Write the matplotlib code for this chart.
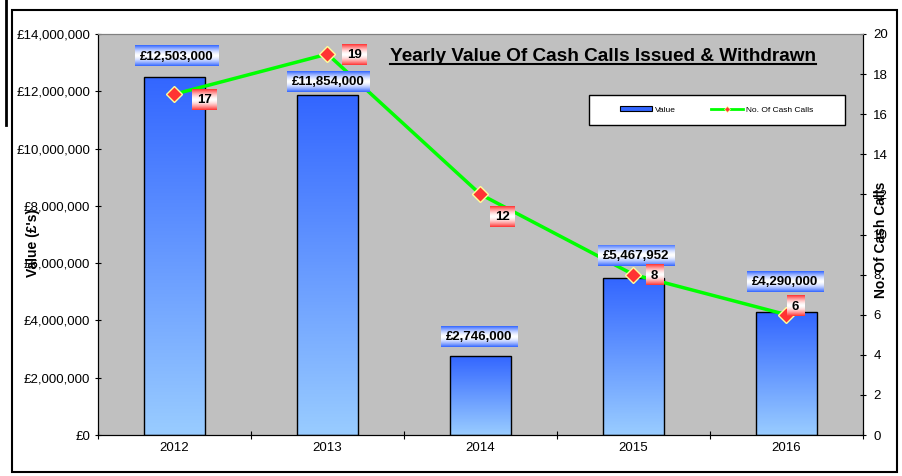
import matplotlib.pyplot as plt
import numpy as np
from matplotlib.patches import Rectangle
from matplotlib.lines import Line2D
from matplotlib.ticker import FuncFormatter, MultipleLocator, FixedLocator

plt.rcParams['font.family'] = ['Liberation Sans', 'DejaVu Sans']

years = ['2012', '2013', '2014', '2015', '2016']
values = [12503000, 11854000, 2746000, 5467952, 4290000]
value_text = ['£12,503,000', '£11,854,000', '£2,746,000', '£5,467,952', '£4,290,000']
calls = [17, 19, 12, 8, 6]

# label nudges in pixels (dx, dy) from the point they belong to, picked by eye
value_nudge = [(2, 21), (1, 14), (-1, 20), (3, 23), (-1, 31)]
calls_nudge = [(30, -5), (27, 0), (22, -22), (21, 0), (9, 9)]

W, H = 903, 476
fig = plt.figure(figsize=(W / 100, H / 100), dpi=100)
fig.patch.set_facecolor('white')

ax = fig.add_axes([98 / W, 41 / H, 765 / W, 401 / H])
ax.set_facecolor('#C0C0C0')
ax2 = ax.twinx()

x = np.arange(len(years))

dark = np.array([0x33, 0x66, 0xFF]) / 255
light = np.array([0x99, 0xCC, 0xFF]) / 255
t = np.linspace(0, 1, 128)[:, None, None]
bar_grad = dark * (1 - t) + light * t

bars = ax.bar(x, values, 0.4, color='#3366FF', zorder=2)
for p in bars:
    b = p.get_bbox()
    im = ax.imshow(bar_grad, extent=[b.x0, b.x1, b.y0, b.y1], aspect='auto', zorder=2.1)
    im.set_clip_path(p)
ax.bar(x, values, 0.4, fill=False, edgecolor='black', linewidth=1, zorder=2.2)

ax.set_xlim(-0.5, len(years) - 0.5)
ax.set_ylim(0, 14000000)
ax.yaxis.set_major_locator(MultipleLocator(2000000))
ax.yaxis.set_major_formatter(FuncFormatter(lambda v, pos: '£{:,.0f}'.format(v)))
ax.xaxis.set_major_locator(FixedLocator(np.arange(-0.5, len(years), 1)))
ax.xaxis.set_major_formatter(FuncFormatter(lambda v, pos: ''))
ax.xaxis.set_minor_locator(FixedLocator(x))
ax.set_xticklabels(years, minor=True)
ax.tick_params(axis='x', which='minor', length=0, labelsize=9.5, pad=5)
ax.tick_params(axis='x', which='major', direction='inout', length=6)
ax.tick_params(axis='y', direction='inout', length=5, labelsize=9.5, pad=3)

ax2.plot(x, calls, color='#00FF00', lw=2.5, marker='D', ms=8, mfc='#FF3333',
         mec='#FFFF99', mew=1, zorder=3)
ax2.set_ylim(0, 20)
ax2.yaxis.set_major_locator(MultipleLocator(2))
ax2.tick_params(axis='y', direction='inout', length=5, labelsize=9.5, pad=5)

for a in (ax, ax2):
    a.spines['top'].set_color('#808080')
    for s in ('left', 'right', 'bottom'):
        a.spines[s].set_color('black')

ax.set_ylabel("Value (£'s)", fontsize=10, fontweight='bold')
ax.yaxis.set_label_coords(-0.076, 0.479)
ax2.set_ylabel('No. Of Cash Calls', fontsize=10, fontweight='bold')
ax2.yaxis.set_label_coords(1.014, 0.486)

renderer = fig.canvas.get_renderer()


def grad_box(col):
    c = np.array(col) / 255
    s = np.linspace(-1, 1, 64)[:, None, None]
    m = np.abs(s) ** 1.6
    return np.ones(3) * (1 - m) + c * m


def tag(px, py, s, col, padx):
    txt = fig.text(px / W, (py - 1) / H, s, ha='center', va='center', fontsize=9.5,
                   fontweight='bold', zorder=6)
    bb = txt.get_window_extent(renderer)
    w = bb.width + padx
    h = 21
    bx = fig.add_axes([(px - w / 2) / W, (py - h / 2) / H, w / W, h / H], zorder=5)
    bx.imshow(grad_box(col), aspect='auto', extent=[0, 1, 0, 1])
    bx.axis('off')


for i in range(len(years)):
    px, py = ax.transData.transform((x[i], values[i]))
    dx, dy = value_nudge[i]
    tag(px + dx, py + dy, value_text[i], (0x33, 0x66, 0xFF), 10)
    px, py = ax2.transData.transform((x[i], calls[i]))
    dx, dy = calls_nudge[i]
    tag(px + dx, py + dy, str(calls[i]), (0xFF, 0x33, 0x33), 10)

# title with underline
tt = fig.text(603 / W, 415 / H, 'Yearly Value Of Cash Calls Issued & Withdrawn',
              ha='center', va='baseline', fontsize=13.7, fontweight='bold', zorder=6)
tb = tt.get_window_extent(renderer)
fig.add_artist(Line2D([tb.x0 / W, tb.x1 / W], [412 / H, 412 / H], color='black', lw=1.5))

# legend with its own frame
fig.add_artist(Rectangle((589 / W, 351 / H), 256 / W, 30 / H, transform=fig.transFigure,
                         facecolor='white', edgecolor='black', lw=1, zorder=4))
h_val = Rectangle((0, 0), 1, 1, facecolor='#3366FF', edgecolor='black', lw=0.8)
h_calls = Line2D([], [], color='#00FF00', lw=2, marker='D', ms=3, mfc='#FF3333', mec='#FFFF99', mew=0.5)
fig.legend([h_val, h_calls], ['Value', 'No. Of Cash Calls'], loc='center',
           bbox_to_anchor=(717 / W, 366 / H), ncol=2, frameon=False, fontsize=6,
           handlelength=3.8, handleheight=0.5, handletextpad=0.4, columnspacing=4.2)

# outer chart frame and the stray line on the left
fig.add_artist(Rectangle((12 / W, 4 / H), 885 / W, 462 / H, transform=fig.transFigure,
                         fill=False, edgecolor='black', lw=1.5))
fig.add_artist(Line2D([6 / W, 6 / W], [351 / H, 1], color='black', lw=2))

fig.savefig('out.png', dpi=100)
